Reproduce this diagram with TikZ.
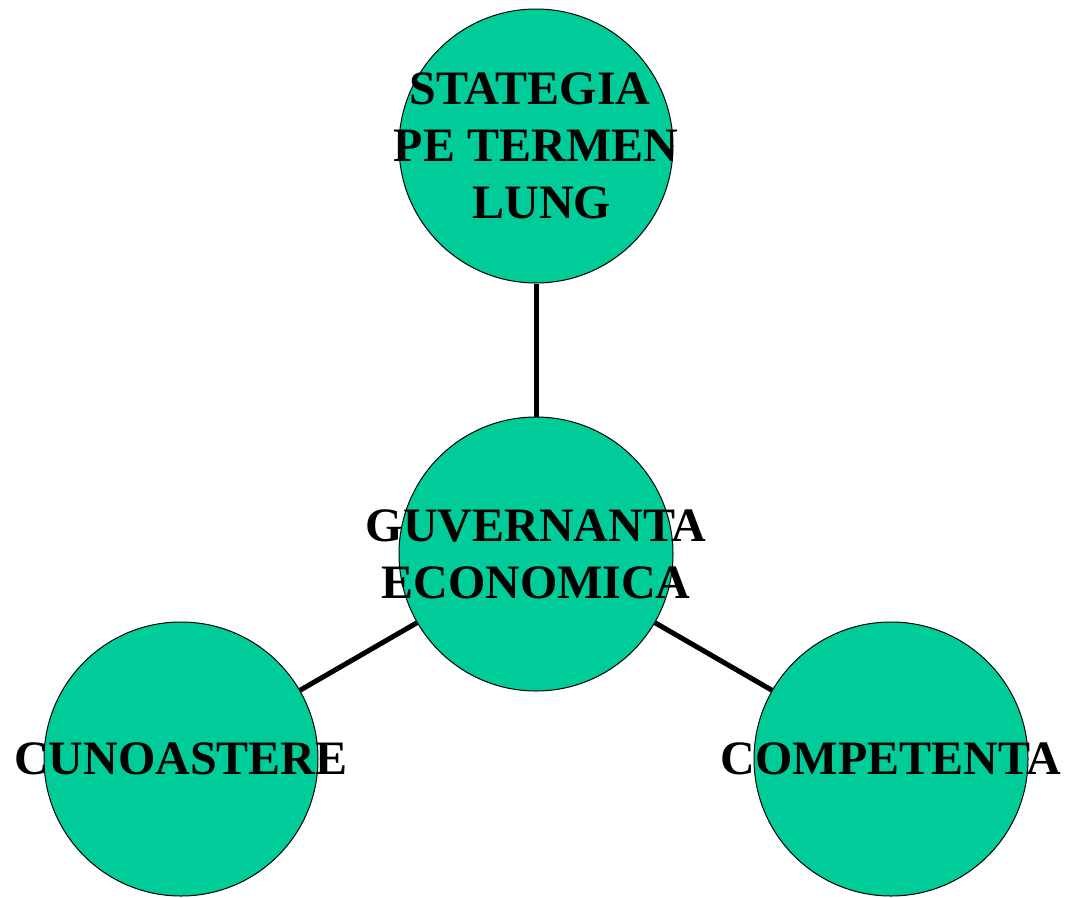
\documentclass[tikz,border=0pt]{standalone}
\usepackage{fontspec}
\setmainfont{Liberation Serif}
\definecolor{circfill}{RGB}{0,204,153}
\begin{document}
\begin{tikzpicture}[x=1pt,y=-1pt,
  bubble/.style={circle,draw=black,line width=1pt,fill=circfill,minimum size=274pt,inner sep=0pt},
  lbl/.style={align=center,inner sep=0pt,font=\fontsize{48}{57}\selectfont\bfseries},
  link/.style={line width=5pt,black}]
\useasboundingbox (0,0) rectangle (1071,897);
\node[bubble] (top) at (536,146) {};
\node[bubble] (mid) at (536,554) {};
\node[bubble] (left) at (181,759) {};
\node[bubble] (right) at (891,759) {};
\draw[link] (top) -- (mid);
\draw[link] (mid) -- (left);
\draw[link] (mid) -- (right);
\node[lbl] (ttop) at (536,146) {STATEGIA\rule{12pt}{0pt}\\PE TERMEN\\\hspace{12pt}LUNG};
\node[lbl] (tmid) at (536,554) {GUVERNANTA\\ECONOMICA};
\node[lbl] (tleft) at (181,759) {CUNOASTERE};
\node[lbl] (tright) at (891,759) {COMPETENTA};
\end{tikzpicture}
\end{document}
